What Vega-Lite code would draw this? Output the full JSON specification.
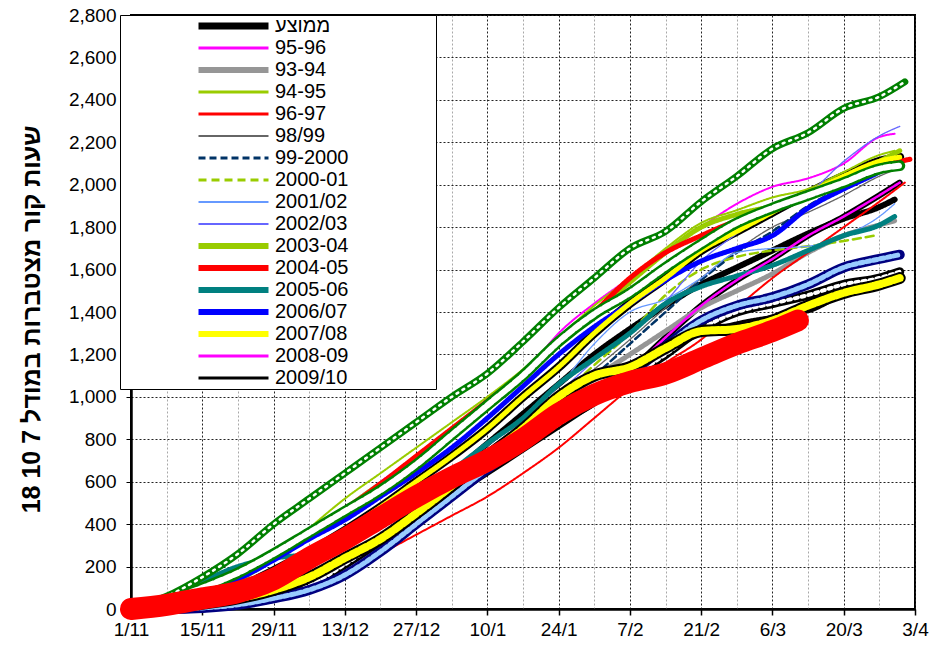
{
"$schema": "https://vega.github.io/schema/vega-lite/v6.json",
"width": 784, "height": 594,
"autosize": {"type": "none"},
"padding": {"left": 131, "top": 15, "right": 16, "bottom": 37},
"config": {
  "font": "Liberation Sans",
  "view": {"stroke": "black", "strokeWidth": 2},
  "line": {"strokeCap": "round", "strokeJoin": "round", "interpolate": "monotone"}
},
"data": {"values": [
{"season":"ממוצע","date":"2007-11-01","hours":0},{"season":"ממוצע","date":"2007-11-08","hours":20},{"season":"ממוצע","date":"2007-11-15","hours":50},{"season":"ממוצע","date":"2007-11-22","hours":90},{"season":"ממוצע","date":"2007-11-29","hours":150},{"season":"ממוצע","date":"2007-12-06","hours":220},{"season":"ממוצע","date":"2007-12-13","hours":310},{"season":"ממוצע","date":"2007-12-20","hours":410},{"season":"ממוצע","date":"2007-12-27","hours":520},{"season":"ממוצע","date":"2008-01-03","hours":640},{"season":"ממוצע","date":"2008-01-10","hours":780},{"season":"ממוצע","date":"2008-01-17","hours":920},{"season":"ממוצע","date":"2008-01-24","hours":1060},{"season":"ממוצע","date":"2008-01-31","hours":1200},{"season":"ממוצע","date":"2008-02-07","hours":1320},{"season":"ממוצע","date":"2008-02-14","hours":1430},{"season":"ממוצע","date":"2008-02-21","hours":1530},{"season":"ממוצע","date":"2008-02-28","hours":1610},{"season":"ממוצע","date":"2008-03-06","hours":1690},{"season":"ממוצע","date":"2008-03-13","hours":1770},{"season":"ממוצע","date":"2008-03-20","hours":1840},{"season":"ממוצע","date":"2008-03-27","hours":1895},{"season":"ממוצע","date":"2008-03-30","hours":1930},
{"season":"95-96","date":"2007-11-01","hours":0},{"season":"95-96","date":"2007-11-08","hours":40},{"season":"95-96","date":"2007-11-15","hours":100},{"season":"95-96","date":"2007-11-22","hours":150},{"season":"95-96","date":"2007-11-29","hours":260},{"season":"95-96","date":"2007-12-06","hours":370},{"season":"95-96","date":"2007-12-13","hours":480},{"season":"95-96","date":"2007-12-20","hours":600},{"season":"95-96","date":"2007-12-27","hours":720},{"season":"95-96","date":"2008-01-03","hours":830},{"season":"95-96","date":"2008-01-10","hours":950},{"season":"95-96","date":"2008-01-17","hours":1100},{"season":"95-96","date":"2008-01-24","hours":1300},{"season":"95-96","date":"2008-01-31","hours":1440},{"season":"95-96","date":"2008-02-07","hours":1560},{"season":"95-96","date":"2008-02-14","hours":1680},{"season":"95-96","date":"2008-02-21","hours":1800},{"season":"95-96","date":"2008-02-28","hours":1910},{"season":"95-96","date":"2008-03-06","hours":1990},{"season":"95-96","date":"2008-03-13","hours":2030},{"season":"95-96","date":"2008-03-20","hours":2100},{"season":"95-96","date":"2008-03-27","hours":2225},{"season":"95-96","date":"2008-03-30","hours":2240},
{"season":"93-94","date":"2007-11-01","hours":0},{"season":"93-94","date":"2007-11-08","hours":30},{"season":"93-94","date":"2007-11-15","hours":90},{"season":"93-94","date":"2007-11-22","hours":130},{"season":"93-94","date":"2007-11-29","hours":160},{"season":"93-94","date":"2007-12-06","hours":220},{"season":"93-94","date":"2007-12-13","hours":300},{"season":"93-94","date":"2007-12-20","hours":400},{"season":"93-94","date":"2007-12-27","hours":500},{"season":"93-94","date":"2008-01-03","hours":610},{"season":"93-94","date":"2008-01-10","hours":720},{"season":"93-94","date":"2008-01-17","hours":830},{"season":"93-94","date":"2008-01-24","hours":960},{"season":"93-94","date":"2008-01-31","hours":1090},{"season":"93-94","date":"2008-02-07","hours":1200},{"season":"93-94","date":"2008-02-14","hours":1310},{"season":"93-94","date":"2008-02-21","hours":1420},{"season":"93-94","date":"2008-02-28","hours":1500},{"season":"93-94","date":"2008-03-06","hours":1580},{"season":"93-94","date":"2008-03-13","hours":1680},{"season":"93-94","date":"2008-03-20","hours":1760},{"season":"93-94","date":"2008-03-27","hours":1810},{"season":"93-94","date":"2008-03-30","hours":1830},
{"season":"94-95","date":"2007-11-01","hours":0},{"season":"94-95","date":"2007-11-08","hours":30},{"season":"94-95","date":"2007-11-15","hours":70},{"season":"94-95","date":"2007-11-22","hours":130},{"season":"94-95","date":"2007-11-29","hours":230},{"season":"94-95","date":"2007-12-06","hours":380},{"season":"94-95","date":"2007-12-13","hours":520},{"season":"94-95","date":"2007-12-20","hours":640},{"season":"94-95","date":"2007-12-27","hours":760},{"season":"94-95","date":"2008-01-03","hours":880},{"season":"94-95","date":"2008-01-10","hours":1000},{"season":"94-95","date":"2008-01-17","hours":1130},{"season":"94-95","date":"2008-01-24","hours":1280},{"season":"94-95","date":"2008-01-31","hours":1430},{"season":"94-95","date":"2008-02-07","hours":1560},{"season":"94-95","date":"2008-02-14","hours":1700},{"season":"94-95","date":"2008-02-21","hours":1820},{"season":"94-95","date":"2008-02-28","hours":1880},{"season":"94-95","date":"2008-03-06","hours":1940},{"season":"94-95","date":"2008-03-13","hours":1980},{"season":"94-95","date":"2008-03-20","hours":2060},{"season":"94-95","date":"2008-03-27","hours":2140},{"season":"94-95","date":"2008-03-30","hours":2160},
{"season":"96-97","date":"2007-11-01","hours":0},{"season":"96-97","date":"2007-11-08","hours":5},{"season":"96-97","date":"2007-11-15","hours":10},{"season":"96-97","date":"2007-11-22","hours":20},{"season":"96-97","date":"2007-11-29","hours":40},{"season":"96-97","date":"2007-12-06","hours":90},{"season":"96-97","date":"2007-12-13","hours":170},{"season":"96-97","date":"2007-12-20","hours":260},{"season":"96-97","date":"2007-12-27","hours":350},{"season":"96-97","date":"2008-01-03","hours":440},{"season":"96-97","date":"2008-01-10","hours":530},{"season":"96-97","date":"2008-01-17","hours":640},{"season":"96-97","date":"2008-01-24","hours":760},{"season":"96-97","date":"2008-01-31","hours":900},{"season":"96-97","date":"2008-02-07","hours":1040},{"season":"96-97","date":"2008-02-14","hours":1160},{"season":"96-97","date":"2008-02-21","hours":1270},{"season":"96-97","date":"2008-02-28","hours":1420},{"season":"96-97","date":"2008-03-06","hours":1560},{"season":"96-97","date":"2008-03-13","hours":1680},{"season":"96-97","date":"2008-03-20","hours":1800},{"season":"96-97","date":"2008-03-27","hours":1920},{"season":"96-97","date":"2008-04-01","hours":2010},
{"season":"98/99","date":"2007-11-01","hours":0},{"season":"98/99","date":"2007-11-08","hours":20},{"season":"98/99","date":"2007-11-15","hours":50},{"season":"98/99","date":"2007-11-22","hours":100},{"season":"98/99","date":"2007-11-29","hours":160},{"season":"98/99","date":"2007-12-06","hours":230},{"season":"98/99","date":"2007-12-13","hours":310},{"season":"98/99","date":"2007-12-20","hours":400},{"season":"98/99","date":"2007-12-27","hours":500},{"season":"98/99","date":"2008-01-03","hours":620},{"season":"98/99","date":"2008-01-10","hours":740},{"season":"98/99","date":"2008-01-17","hours":860},{"season":"98/99","date":"2008-01-24","hours":990},{"season":"98/99","date":"2008-01-31","hours":1130},{"season":"98/99","date":"2008-02-07","hours":1270},{"season":"98/99","date":"2008-02-14","hours":1420},{"season":"98/99","date":"2008-02-21","hours":1560},{"season":"98/99","date":"2008-02-28","hours":1690},{"season":"98/99","date":"2008-03-06","hours":1800},{"season":"98/99","date":"2008-03-13","hours":1870},{"season":"98/99","date":"2008-03-20","hours":1950},{"season":"98/99","date":"2008-03-27","hours":2040},{"season":"98/99","date":"2008-03-30","hours":2070},
{"season":"99-2000","date":"2007-11-01","hours":0},{"season":"99-2000","date":"2007-11-08","hours":20},{"season":"99-2000","date":"2007-11-15","hours":40},{"season":"99-2000","date":"2007-11-22","hours":80},{"season":"99-2000","date":"2007-11-29","hours":140},{"season":"99-2000","date":"2007-12-06","hours":210},{"season":"99-2000","date":"2007-12-13","hours":290},{"season":"99-2000","date":"2007-12-20","hours":380},{"season":"99-2000","date":"2007-12-27","hours":480},{"season":"99-2000","date":"2008-01-03","hours":590},{"season":"99-2000","date":"2008-01-10","hours":700},{"season":"99-2000","date":"2008-01-17","hours":820},{"season":"99-2000","date":"2008-01-24","hours":960},{"season":"99-2000","date":"2008-01-31","hours":1100},{"season":"99-2000","date":"2008-02-07","hours":1250},{"season":"99-2000","date":"2008-02-14","hours":1400},{"season":"99-2000","date":"2008-02-21","hours":1550},{"season":"99-2000","date":"2008-02-28","hours":1680},{"season":"99-2000","date":"2008-03-06","hours":1780},{"season":"99-2000","date":"2008-03-13","hours":1900},{"season":"99-2000","date":"2008-03-20","hours":1990},
{"season":"2000-01","date":"2007-11-01","hours":0},{"season":"2000-01","date":"2007-11-08","hours":20},{"season":"2000-01","date":"2007-11-15","hours":50},{"season":"2000-01","date":"2007-11-22","hours":100},{"season":"2000-01","date":"2007-11-29","hours":160},{"season":"2000-01","date":"2007-12-06","hours":230},{"season":"2000-01","date":"2007-12-13","hours":310},{"season":"2000-01","date":"2007-12-20","hours":400},{"season":"2000-01","date":"2007-12-27","hours":500},{"season":"2000-01","date":"2008-01-03","hours":610},{"season":"2000-01","date":"2008-01-10","hours":730},{"season":"2000-01","date":"2008-01-17","hours":860},{"season":"2000-01","date":"2008-01-24","hours":1000},{"season":"2000-01","date":"2008-01-31","hours":1150},{"season":"2000-01","date":"2008-02-07","hours":1300},{"season":"2000-01","date":"2008-02-14","hours":1480},{"season":"2000-01","date":"2008-02-21","hours":1600},{"season":"2000-01","date":"2008-02-28","hours":1660},{"season":"2000-01","date":"2008-03-06","hours":1690},{"season":"2000-01","date":"2008-03-13","hours":1710},{"season":"2000-01","date":"2008-03-20","hours":1735},{"season":"2000-01","date":"2008-03-26","hours":1760},
{"season":"2001/02","date":"2007-11-01","hours":0},{"season":"2001/02","date":"2007-11-08","hours":20},{"season":"2001/02","date":"2007-11-15","hours":50},{"season":"2001/02","date":"2007-11-22","hours":100},{"season":"2001/02","date":"2007-11-29","hours":170},{"season":"2001/02","date":"2007-12-06","hours":250},{"season":"2001/02","date":"2007-12-13","hours":340},{"season":"2001/02","date":"2007-12-20","hours":440},{"season":"2001/02","date":"2007-12-27","hours":550},{"season":"2001/02","date":"2008-01-03","hours":660},{"season":"2001/02","date":"2008-01-10","hours":780},{"season":"2001/02","date":"2008-01-17","hours":900},{"season":"2001/02","date":"2008-01-24","hours":1050},{"season":"2001/02","date":"2008-01-31","hours":1250},{"season":"2001/02","date":"2008-02-07","hours":1400},{"season":"2001/02","date":"2008-02-14","hours":1460},{"season":"2001/02","date":"2008-02-21","hours":1560},{"season":"2001/02","date":"2008-02-28","hours":1680},{"season":"2001/02","date":"2008-03-06","hours":1700},{"season":"2001/02","date":"2008-03-13","hours":1710},{"season":"2001/02","date":"2008-03-20","hours":1760},{"season":"2001/02","date":"2008-03-27","hours":1850},{"season":"2001/02","date":"2008-03-30","hours":1910},
{"season":"2002/03","date":"2007-11-01","hours":0},{"season":"2002/03","date":"2007-11-08","hours":20},{"season":"2002/03","date":"2007-11-15","hours":50},{"season":"2002/03","date":"2007-11-22","hours":100},{"season":"2002/03","date":"2007-11-29","hours":160},{"season":"2002/03","date":"2007-12-06","hours":240},{"season":"2002/03","date":"2007-12-13","hours":330},{"season":"2002/03","date":"2007-12-20","hours":430},{"season":"2002/03","date":"2007-12-27","hours":540},{"season":"2002/03","date":"2008-01-03","hours":650},{"season":"2002/03","date":"2008-01-10","hours":770},{"season":"2002/03","date":"2008-01-17","hours":890},{"season":"2002/03","date":"2008-01-24","hours":1020},{"season":"2002/03","date":"2008-01-31","hours":1170},{"season":"2002/03","date":"2008-02-07","hours":1300},{"season":"2002/03","date":"2008-02-14","hours":1450},{"season":"2002/03","date":"2008-02-21","hours":1640},{"season":"2002/03","date":"2008-02-28","hours":1770},{"season":"2002/03","date":"2008-03-06","hours":1900},{"season":"2002/03","date":"2008-03-13","hours":1960},{"season":"2002/03","date":"2008-03-20","hours":2110},{"season":"2002/03","date":"2008-03-27","hours":2230},{"season":"2002/03","date":"2008-03-31","hours":2275},
{"season":"2003-04","date":"2007-11-01","hours":0},{"season":"2003-04","date":"2007-11-08","hours":30},{"season":"2003-04","date":"2007-11-15","hours":70},{"season":"2003-04","date":"2007-11-22","hours":140},{"season":"2003-04","date":"2007-11-29","hours":240},{"season":"2003-04","date":"2007-12-06","hours":350},{"season":"2003-04","date":"2007-12-13","hours":470},{"season":"2003-04","date":"2007-12-20","hours":590},{"season":"2003-04","date":"2007-12-27","hours":700},{"season":"2003-04","date":"2008-01-03","hours":830},{"season":"2003-04","date":"2008-01-10","hours":960},{"season":"2003-04","date":"2008-01-17","hours":1100},{"season":"2003-04","date":"2008-01-24","hours":1250},{"season":"2003-04","date":"2008-01-31","hours":1400},{"season":"2003-04","date":"2008-02-07","hours":1540},{"season":"2003-04","date":"2008-02-14","hours":1680},{"season":"2003-04","date":"2008-02-21","hours":1800},{"season":"2003-04","date":"2008-02-28","hours":1860},{"season":"2003-04","date":"2008-03-06","hours":1900},{"season":"2003-04","date":"2008-03-13","hours":1960},{"season":"2003-04","date":"2008-03-20","hours":2030},{"season":"2003-04","date":"2008-03-27","hours":2110},{"season":"2003-04","date":"2008-03-31","hours":2160},
{"season":"2004-05","date":"2007-11-01","hours":0},{"season":"2004-05","date":"2007-11-08","hours":30},{"season":"2004-05","date":"2007-11-15","hours":80},{"season":"2004-05","date":"2007-11-22","hours":160},{"season":"2004-05","date":"2007-11-29","hours":260},{"season":"2004-05","date":"2007-12-06","hours":370},{"season":"2004-05","date":"2007-12-13","hours":470},{"season":"2004-05","date":"2007-12-20","hours":590},{"season":"2004-05","date":"2007-12-27","hours":720},{"season":"2004-05","date":"2008-01-03","hours":850},{"season":"2004-05","date":"2008-01-10","hours":980},{"season":"2004-05","date":"2008-01-17","hours":1110},{"season":"2004-05","date":"2008-01-24","hours":1250},{"season":"2004-05","date":"2008-01-31","hours":1400},{"season":"2004-05","date":"2008-02-07","hours":1560},{"season":"2004-05","date":"2008-02-14","hours":1680},{"season":"2004-05","date":"2008-02-21","hours":1760},{"season":"2004-05","date":"2008-02-28","hours":1830},{"season":"2004-05","date":"2008-03-06","hours":1880},{"season":"2004-05","date":"2008-03-13","hours":1940},{"season":"2004-05","date":"2008-03-20","hours":2000},{"season":"2004-05","date":"2008-03-27","hours":2080},{"season":"2004-05","date":"2008-04-02","hours":2120},
{"season":"2005-06","date":"2007-11-01","hours":0},{"season":"2005-06","date":"2007-11-08","hours":60},{"season":"2005-06","date":"2007-11-15","hours":130},{"season":"2005-06","date":"2007-11-22","hours":200},{"season":"2005-06","date":"2007-11-29","hours":240},{"season":"2005-06","date":"2007-12-06","hours":260},{"season":"2005-06","date":"2007-12-13","hours":330},{"season":"2005-06","date":"2007-12-20","hours":420},{"season":"2005-06","date":"2007-12-27","hours":520},{"season":"2005-06","date":"2008-01-03","hours":650},{"season":"2005-06","date":"2008-01-10","hours":780},{"season":"2005-06","date":"2008-01-17","hours":900},{"season":"2005-06","date":"2008-01-24","hours":1060},{"season":"2005-06","date":"2008-01-31","hours":1180},{"season":"2005-06","date":"2008-02-07","hours":1300},{"season":"2005-06","date":"2008-02-14","hours":1440},{"season":"2005-06","date":"2008-02-21","hours":1520},{"season":"2005-06","date":"2008-02-28","hours":1570},{"season":"2005-06","date":"2008-03-06","hours":1620},{"season":"2005-06","date":"2008-03-13","hours":1690},{"season":"2005-06","date":"2008-03-20","hours":1760},{"season":"2005-06","date":"2008-03-27","hours":1810},{"season":"2005-06","date":"2008-03-30","hours":1850},
{"season":"2006/07","date":"2007-11-01","hours":0},{"season":"2006/07","date":"2007-11-08","hours":25},{"season":"2006/07","date":"2007-11-15","hours":70},{"season":"2006/07","date":"2007-11-22","hours":140},{"season":"2006/07","date":"2007-11-29","hours":230},{"season":"2006/07","date":"2007-12-06","hours":330},{"season":"2006/07","date":"2007-12-13","hours":420},{"season":"2006/07","date":"2007-12-20","hours":530},{"season":"2006/07","date":"2007-12-27","hours":640},{"season":"2006/07","date":"2008-01-03","hours":760},{"season":"2006/07","date":"2008-01-10","hours":900},{"season":"2006/07","date":"2008-01-17","hours":1050},{"season":"2006/07","date":"2008-01-24","hours":1200},{"season":"2006/07","date":"2008-01-31","hours":1330},{"season":"2006/07","date":"2008-02-07","hours":1440},{"season":"2006/07","date":"2008-02-14","hours":1550},{"season":"2006/07","date":"2008-02-21","hours":1640},{"season":"2006/07","date":"2008-02-28","hours":1700},{"season":"2006/07","date":"2008-03-06","hours":1760},{"season":"2006/07","date":"2008-03-13","hours":1890},{"season":"2006/07","date":"2008-03-20","hours":1980},{"season":"2006/07","date":"2008-03-27","hours":2060},{"season":"2006/07","date":"2008-03-30","hours":2100},
{"season":"2007/08","date":"2007-11-01","hours":0},{"season":"2007/08","date":"2007-11-08","hours":20},{"season":"2007/08","date":"2007-11-15","hours":50},{"season":"2007/08","date":"2007-11-22","hours":100},{"season":"2007/08","date":"2007-11-29","hours":180},{"season":"2007/08","date":"2007-12-06","hours":270},{"season":"2007/08","date":"2007-12-13","hours":370},{"season":"2007/08","date":"2007-12-20","hours":480},{"season":"2007/08","date":"2007-12-27","hours":600},{"season":"2007/08","date":"2008-01-03","hours":720},{"season":"2007/08","date":"2008-01-10","hours":850},{"season":"2007/08","date":"2008-01-17","hours":1000},{"season":"2007/08","date":"2008-01-24","hours":1140},{"season":"2007/08","date":"2008-01-31","hours":1300},{"season":"2007/08","date":"2008-02-07","hours":1440},{"season":"2007/08","date":"2008-02-14","hours":1560},{"season":"2007/08","date":"2008-02-21","hours":1690},{"season":"2007/08","date":"2008-02-28","hours":1780},{"season":"2007/08","date":"2008-03-06","hours":1870},{"season":"2007/08","date":"2008-03-13","hours":1960},{"season":"2007/08","date":"2008-03-20","hours":2040},{"season":"2007/08","date":"2008-03-27","hours":2110},{"season":"2007/08","date":"2008-03-31","hours":2130},
{"season":"2008-09","date":"2007-11-01","hours":0},{"season":"2008-09","date":"2007-11-08","hours":10},{"season":"2008-09","date":"2007-11-15","hours":30},{"season":"2008-09","date":"2007-11-22","hours":60},{"season":"2008-09","date":"2007-11-29","hours":100},{"season":"2008-09","date":"2007-12-06","hours":160},{"season":"2008-09","date":"2007-12-13","hours":250},{"season":"2008-09","date":"2007-12-20","hours":340},{"season":"2008-09","date":"2007-12-27","hours":450},{"season":"2008-09","date":"2008-01-03","hours":570},{"season":"2008-09","date":"2008-01-10","hours":680},{"season":"2008-09","date":"2008-01-17","hours":790},{"season":"2008-09","date":"2008-01-24","hours":880},{"season":"2008-09","date":"2008-01-31","hours":970},{"season":"2008-09","date":"2008-02-07","hours":1120},{"season":"2008-09","date":"2008-02-14","hours":1280},{"season":"2008-09","date":"2008-02-21","hours":1430},{"season":"2008-09","date":"2008-02-28","hours":1550},{"season":"2008-09","date":"2008-03-06","hours":1650},{"season":"2008-09","date":"2008-03-13","hours":1760},{"season":"2008-09","date":"2008-03-20","hours":1850},{"season":"2008-09","date":"2008-03-27","hours":1950},{"season":"2008-09","date":"2008-03-31","hours":2010},
{"season":"2009/10","date":"2007-11-01","hours":0},{"season":"2009/10","date":"2007-11-08","hours":5},{"season":"2009/10","date":"2007-11-15","hours":20},{"season":"2009/10","date":"2007-11-22","hours":40},{"season":"2009/10","date":"2007-11-29","hours":60},{"season":"2009/10","date":"2007-12-06","hours":120},{"season":"2009/10","date":"2007-12-13","hours":210},{"season":"2009/10","date":"2007-12-20","hours":310},{"season":"2009/10","date":"2007-12-27","hours":420},{"season":"2009/10","date":"2008-01-03","hours":540},{"season":"2009/10","date":"2008-01-10","hours":660},{"season":"2009/10","date":"2008-01-17","hours":780},{"season":"2009/10","date":"2008-01-24","hours":900},{"season":"2009/10","date":"2008-01-31","hours":1010},{"season":"2009/10","date":"2008-02-07","hours":1110},{"season":"2009/10","date":"2008-02-14","hours":1200},{"season":"2009/10","date":"2008-02-21","hours":1300},{"season":"2009/10","date":"2008-02-28","hours":1350},{"season":"2009/10","date":"2008-03-06","hours":1380},{"season":"2009/10","date":"2008-03-13","hours":1400},{"season":"2009/10","date":"2008-03-20","hours":1480},{"season":"2009/10","date":"2008-03-27","hours":1540},{"season":"2009/10","date":"2008-03-31","hours":1590},
{"season":"A","date":"2007-11-01","hours":0},{"season":"A","date":"2007-11-08","hours":60},{"season":"A","date":"2007-11-15","hours":150},{"season":"A","date":"2007-11-22","hours":260},{"season":"A","date":"2007-11-29","hours":400},{"season":"A","date":"2007-12-06","hours":520},{"season":"A","date":"2007-12-13","hours":640},{"season":"A","date":"2007-12-20","hours":760},{"season":"A","date":"2007-12-27","hours":880},{"season":"A","date":"2008-01-03","hours":1000},{"season":"A","date":"2008-01-10","hours":1110},{"season":"A","date":"2008-01-17","hours":1260},{"season":"A","date":"2008-01-24","hours":1420},{"season":"A","date":"2008-01-31","hours":1560},{"season":"A","date":"2008-02-07","hours":1700},{"season":"A","date":"2008-02-14","hours":1780},{"season":"A","date":"2008-02-21","hours":1920},{"season":"A","date":"2008-02-28","hours":2040},{"season":"A","date":"2008-03-06","hours":2170},{"season":"A","date":"2008-03-13","hours":2245},{"season":"A","date":"2008-03-20","hours":2360},{"season":"A","date":"2008-03-27","hours":2415},{"season":"A","date":"2008-04-01","hours":2485},
{"season":"B","date":"2007-11-01","hours":0},{"season":"B","date":"2007-11-08","hours":40},{"season":"B","date":"2007-11-15","hours":100},{"season":"B","date":"2007-11-22","hours":170},{"season":"B","date":"2007-11-29","hours":260},{"season":"B","date":"2007-12-06","hours":360},{"season":"B","date":"2007-12-13","hours":460},{"season":"B","date":"2007-12-20","hours":560},{"season":"B","date":"2007-12-27","hours":680},{"season":"B","date":"2008-01-03","hours":820},{"season":"B","date":"2008-01-10","hours":960},{"season":"B","date":"2008-01-17","hours":1100},{"season":"B","date":"2008-01-24","hours":1260},{"season":"B","date":"2008-01-31","hours":1390},{"season":"B","date":"2008-02-07","hours":1490},{"season":"B","date":"2008-02-14","hours":1610},{"season":"B","date":"2008-02-21","hours":1720},{"season":"B","date":"2008-02-28","hours":1820},{"season":"B","date":"2008-03-06","hours":1890},{"season":"B","date":"2008-03-13","hours":1950},{"season":"B","date":"2008-03-20","hours":2010},{"season":"B","date":"2008-03-27","hours":2075},{"season":"B","date":"2008-03-31","hours":2090},
{"season":"C","date":"2007-11-01","hours":0},{"season":"C","date":"2007-11-08","hours":0},{"season":"C","date":"2007-11-15","hours":5},{"season":"C","date":"2007-11-22","hours":20},{"season":"C","date":"2007-11-29","hours":50},{"season":"C","date":"2007-12-06","hours":90},{"season":"C","date":"2007-12-13","hours":160},{"season":"C","date":"2007-12-20","hours":270},{"season":"C","date":"2007-12-27","hours":400},{"season":"C","date":"2008-01-03","hours":530},{"season":"C","date":"2008-01-10","hours":660},{"season":"C","date":"2008-01-17","hours":780},{"season":"C","date":"2008-01-24","hours":900},{"season":"C","date":"2008-01-31","hours":1010},{"season":"C","date":"2008-02-07","hours":1110},{"season":"C","date":"2008-02-14","hours":1240},{"season":"C","date":"2008-02-21","hours":1360},{"season":"C","date":"2008-02-28","hours":1430},{"season":"C","date":"2008-03-06","hours":1470},{"season":"C","date":"2008-03-13","hours":1530},{"season":"C","date":"2008-03-20","hours":1610},{"season":"C","date":"2008-03-27","hours":1650},{"season":"C","date":"2008-03-31","hours":1670},
{"season":"D","date":"2007-11-01","hours":0},{"season":"D","date":"2007-11-08","hours":0},{"season":"D","date":"2007-11-15","hours":5},{"season":"D","date":"2007-11-22","hours":30},{"season":"D","date":"2007-11-29","hours":50},{"season":"D","date":"2007-12-06","hours":110},{"season":"D","date":"2007-12-13","hours":210},{"season":"D","date":"2007-12-20","hours":320},{"season":"D","date":"2007-12-27","hours":430},{"season":"D","date":"2008-01-03","hours":540},{"season":"D","date":"2008-01-10","hours":650},{"season":"D","date":"2008-01-17","hours":760},{"season":"D","date":"2008-01-24","hours":870},{"season":"D","date":"2008-01-31","hours":980},{"season":"D","date":"2008-02-07","hours":1090},{"season":"D","date":"2008-02-14","hours":1200},{"season":"D","date":"2008-02-21","hours":1320},{"season":"D","date":"2008-02-28","hours":1400},{"season":"D","date":"2008-03-06","hours":1440},{"season":"D","date":"2008-03-13","hours":1480},{"season":"D","date":"2008-03-20","hours":1530},{"season":"D","date":"2008-03-27","hours":1560},{"season":"D","date":"2008-03-31","hours":1590},
{"season":"E","date":"2007-11-01","hours":0},{"season":"E","date":"2007-11-08","hours":20},{"season":"E","date":"2007-11-15","hours":50},{"season":"E","date":"2007-11-22","hours":80},{"season":"E","date":"2007-11-29","hours":140},{"season":"E","date":"2007-12-06","hours":240},{"season":"E","date":"2007-12-13","hours":330},{"season":"E","date":"2007-12-20","hours":430},{"season":"E","date":"2007-12-27","hours":530},{"season":"E","date":"2008-01-03","hours":620},{"season":"E","date":"2008-01-10","hours":700},{"season":"E","date":"2008-01-17","hours":800},{"season":"E","date":"2008-01-24","hours":920},{"season":"E","date":"2008-01-31","hours":1010},{"season":"E","date":"2008-02-07","hours":1070},{"season":"E","date":"2008-02-14","hours":1110},{"season":"E","date":"2008-02-21","hours":1180},{"season":"E","date":"2008-02-28","hours":1250},{"season":"E","date":"2008-03-06","hours":1310},{"season":"E","date":"2008-03-11","hours":1360},
{"season":"F","date":"2007-11-01","hours":0},{"season":"F","date":"2007-11-08","hours":10},{"season":"F","date":"2007-11-15","hours":25},{"season":"F","date":"2007-11-22","hours":50},{"season":"F","date":"2007-11-29","hours":90},{"season":"F","date":"2007-12-06","hours":150},{"season":"F","date":"2007-12-13","hours":240},{"season":"F","date":"2007-12-20","hours":330},{"season":"F","date":"2007-12-27","hours":450},{"season":"F","date":"2008-01-03","hours":580},{"season":"F","date":"2008-01-10","hours":720},{"season":"F","date":"2008-01-17","hours":850},{"season":"F","date":"2008-01-24","hours":1000},{"season":"F","date":"2008-01-31","hours":1100},{"season":"F","date":"2008-02-07","hours":1140},{"season":"F","date":"2008-02-14","hours":1230},{"season":"F","date":"2008-02-21","hours":1310},{"season":"F","date":"2008-02-28","hours":1320},{"season":"F","date":"2008-03-06","hours":1360},{"season":"F","date":"2008-03-13","hours":1430},{"season":"F","date":"2008-03-20","hours":1490},{"season":"F","date":"2008-03-27","hours":1530},{"season":"F","date":"2008-03-31","hours":1560}
]},
"encoding": {
  "x": {
    "field": "date", "type": "temporal",
    "scale": {"type": "utc", "domain": [{"year": 2007, "month": 11, "date": 1, "utc": true}, {"year": 2008, "month": 4, "date": 3, "utc": true}]},
    "axis": {
      "title": null, "format": "%-d/%-m",
      "values": [
        {"year":2007,"month":11,"date":1,"utc":true},{"year":2007,"month":11,"date":8,"utc":true},{"year":2007,"month":11,"date":15,"utc":true},{"year":2007,"month":11,"date":22,"utc":true},{"year":2007,"month":11,"date":29,"utc":true},
        {"year":2007,"month":12,"date":6,"utc":true},{"year":2007,"month":12,"date":13,"utc":true},{"year":2007,"month":12,"date":20,"utc":true},{"year":2007,"month":12,"date":27,"utc":true},
        {"year":2008,"month":1,"date":3,"utc":true},{"year":2008,"month":1,"date":10,"utc":true},{"year":2008,"month":1,"date":17,"utc":true},{"year":2008,"month":1,"date":24,"utc":true},{"year":2008,"month":1,"date":31,"utc":true},
        {"year":2008,"month":2,"date":7,"utc":true},{"year":2008,"month":2,"date":14,"utc":true},{"year":2008,"month":2,"date":21,"utc":true},{"year":2008,"month":2,"date":28,"utc":true},
        {"year":2008,"month":3,"date":6,"utc":true},{"year":2008,"month":3,"date":13,"utc":true},{"year":2008,"month":3,"date":20,"utc":true},{"year":2008,"month":3,"date":27,"utc":true},
        {"year":2008,"month":4,"date":3,"utc":true}
      ],
      "labelExpr": "round((datum.value - utc(2007,10,1)) / 86400000) % 14 == 0 ? datum.label : ''",
      "labelFontSize": 19, "labelColor": "black", "labelPadding": 5, "labelOverlap": false, "labelFlush": false,
      "tickSize": 6, "tickWidth": 1.5,
      "tickColor": {"condition": {"test": "round((datum.value - utc(2007,10,1)) / 86400000) % 14 == 0", "value": "black"}, "value": "transparent"},
      "grid": true, "gridDash": [2, 2], "gridWidth": 1,
      "gridColor": {"condition": {"test": "round((datum.value - utc(2007,10,1)) / 86400000) % 14 == 0", "value": "#222222"}, "value": "#a8a8a8"},
      "domainColor": "black", "domainWidth": 2.5
    }
  },
  "y": {
    "field": "hours", "type": "quantitative",
    "scale": {"domain": [0, 2800], "nice": false},
    "axis": {
      "title": "שעות קור מצטברות במודל 7 10 18",
      "values": [0,200,400,600,800,1000,1200,1400,1600,1800,2000,2200,2400,2600,2800], "format": ",d",
      "labelFontSize": 19, "labelColor": "black", "labelPadding": 10, "tickSize": 5, "tickColor": "black",
      "grid": true, "gridColor": "#222222", "gridDash": [2, 2], "gridWidth": 1,
      "domainColor": "black", "domainWidth": 2.5,
      "titleFontSize": 25, "titleFontWeight": "bold", "titleColor": "black",
      "titleX": -100, "titleY": 304, "titleAngle": 270, "titleAlign": "center", "titleBaseline": "middle"
    }
  }
},
"layer": [
  {
    "transform": [{"filter": {"field": "season", "oneOf": ["2007/08", "2008-09"]}}],
    "mark": {"type": "line", "color": "black"},
    "encoding": {
      "detail": {"field": "season"},
      "strokeWidth": {"condition": {"test": "datum.season == '2007/08'", "value": 9}, "value": 6}
    }
  },
  {
    "transform": [{"filter": {"field": "season", "oneOf": ["ממוצע","95-96","93-94","94-95","96-97","98/99","99-2000","2000-01","2001/02","2002/03","2003-04","2004-05","2005-06","2006/07","2007/08","2008-09","2009/10"]}}],
    "mark": {"type": "line"},
    "encoding": {
      "color": {
        "field": "season", "type": "nominal",
        "scale": {
          "domain": ["ממוצע","95-96","93-94","94-95","96-97","98/99","99-2000","2000-01","2001/02","2002/03","2003-04","2004-05","2005-06","2006/07","2007/08","2008-09","2009/10"],
          "range": ["#000000","#FF00FF","#969696","#99CC00","#FF0000","#666666","#003366","#99CC00","#6699FF","#6666FF","#99CC00","#FF0000","#008080","#0000FF","#FFFF00","#FF00FF","#000000"]
        },
        "legend": {
          "title": "\u00a0", "titleOrient": "right", "titlePadding": 88, "titleFontSize": 10,
          "orient": "none", "legendX": -11, "legendY": 0, "padding": 0,
          "symbolType": "stroke", "symbolSize": 4900, "symbolOffset": 77, "labelOffset": 5,
          "symbolStrokeWidth": {"expr": "(datum.value == 'ממוצע' ? 7 : (indexof(['93-94','2003-04','2004-05','2005-06','2006/07','2007/08'], datum.value) >= 0 ? 6 : (indexof(['98/99','2001/02','2002/03'], datum.value) >= 0 ? 2 : 3)))"},
          "clipHeight": 22, "rowPadding": 0,
          "labelFontSize": 20, "labelColor": "black", "labelFont": "Liberation Sans", "labelLimit": 0,
          "strokeColor": "black", "fillColor": "white"
        }
      },
      "strokeDash": {
        "field": "season", "type": "nominal",
        "scale": {
          "domain": ["ממוצע","95-96","93-94","94-95","96-97","98/99","99-2000","2000-01","2001/02","2002/03","2003-04","2004-05","2005-06","2006/07","2007/08","2008-09","2009/10"],
          "range": [[1,0],[1,0],[1,0],[1,0],[1,0],[1,0],[7,4],[8,5],[1,0],[1,0],[1,0],[1,0],[1,0],[1,0],[1,0],[1,0],[1,0]]
        },
        "legend": {
          "title": "\u00a0", "titleOrient": "right", "titlePadding": 88, "titleFontSize": 10,
          "orient": "none", "legendX": -11, "legendY": 0, "padding": 0,
          "symbolType": "stroke", "symbolSize": 4900, "symbolOffset": 77, "labelOffset": 5,
          "symbolStrokeWidth": {"expr": "(datum.value == 'ממוצע' ? 7 : (indexof(['93-94','2003-04','2004-05','2005-06','2006/07','2007/08'], datum.value) >= 0 ? 6 : (indexof(['98/99','2001/02','2002/03'], datum.value) >= 0 ? 2 : 3)))"},
          "clipHeight": 22, "rowPadding": 0,
          "labelFontSize": 20, "labelColor": "black", "labelFont": "Liberation Sans", "labelLimit": 0,
          "strokeColor": "black", "fillColor": "white"
        }
      },
      "strokeWidth": {
        "condition": [
          {"test": "datum.season == 'ממוצע'", "value": 6},
          {"test": "indexof(['93-94','2003-04','2004-05','2005-06','2006/07','2007/08'], datum.season) >= 0", "value": 5},
          {"test": "indexof(['98/99','2001/02','2002/03'], datum.season) >= 0", "value": 1.3},
          {"test": "indexof(['99-2000','2000-01','2009/10','2008-09'], datum.season) >= 0", "value": 2.5}
        ],
        "value": 2
      }
    }
  },
  {"transform": [{"filter": "datum.season == 'D'"}], "mark": {"type": "line", "color": "black", "strokeWidth": 9}},
  {"transform": [{"filter": "datum.season == 'D'"}], "mark": {"type": "line", "color": "white", "strokeWidth": 4, "strokeDash": [3, 4]}},
  {"transform": [{"filter": "datum.season == 'C'"}], "mark": {"type": "line", "color": "#000080", "strokeWidth": 10}},
  {"transform": [{"filter": "datum.season == 'C'"}], "mark": {"type": "line", "color": "#99CCFF", "strokeWidth": 5, "strokeDash": [4, 3]}},
  {"transform": [{"filter": "datum.season == 'B'"}], "mark": {"type": "line", "color": "#008000", "strokeWidth": 11}},
  {"transform": [{"filter": "datum.season == 'B'"}], "mark": {"type": "line", "color": "white", "strokeWidth": 6, "strokeDash": [6, 3]}},
  {"transform": [{"filter": "datum.season == 'A'"}], "mark": {"type": "line", "color": "#008000", "strokeWidth": 7}},
  {"transform": [{"filter": "datum.season == 'A'"}], "mark": {"type": "line", "color": "white", "strokeWidth": 2.5, "strokeDash": [2, 5]}},
  {"transform": [{"filter": "datum.season == 'F'"}], "mark": {"type": "line", "color": "black", "strokeWidth": 12}},
  {"transform": [{"filter": "datum.season == 'F'"}], "mark": {"type": "line", "color": "#FFFF00", "strokeWidth": 8, "strokeDash": [7, 3]}},
  {"transform": [{"filter": "datum.season == 'E'"}], "mark": {"type": "line", "color": "#FF0000", "strokeWidth": 22}}
]
}
